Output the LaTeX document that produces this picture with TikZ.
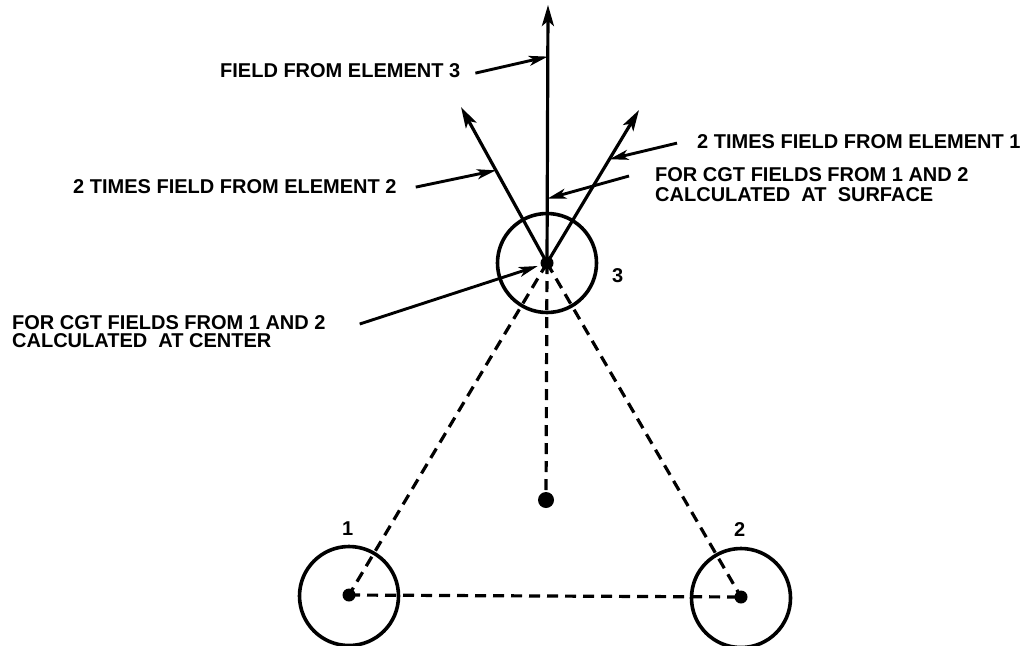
\documentclass[tikz,border=0pt]{standalone}
\usepackage{fontspec}
\setmainfont{Liberation Sans}
\usetikzlibrary{arrows.meta,calc}
\begin{document}
\begin{tikzpicture}[x=1pt,y=-1pt,
  lab/.style={font=\bfseries\fontsize{20}{20}\selectfont, inner sep=0pt, align=left},
  ring/.style={draw, line width=3.6pt, circle, minimum size=99pt, inner sep=0pt},
  dotn/.style={fill, circle, minimum size=13pt, inner sep=0pt},
  vec/.style={line width=3.2pt, -{Stealth[length=21pt,width=12pt,inset=5pt]}},
  call/.style={line width=2.9pt, -{Stealth[length=19pt,width=10pt,inset=5pt]}},
  dashline/.style={line width=3.2pt, dash pattern=on 11pt off 7pt}]
\useasboundingbox (0,0) rectangle (1027,645);

% elements
\node[dotn] (c3) at (547,263) {};
\node[ring] (r3) at (547,263) {};
\node[dotn] (c1) at (349,595) {};
\node[ring] (r1) at (349,596) {};
\node[dotn] (c2) at (741,597) {};
\node[ring] (r2) at (741,598) {};
\node[dotn, minimum size=16pt] (cg) at (546,500) {};

\node[lab, anchor=base west] (n3) at (612,282) {3};
\node[lab, anchor=base west] (n1) at (342,535) {1};
\node[lab, anchor=base west] (n2) at (734,536) {2};

% dashed construction lines
\draw[dashline] (c3.center) -- (c1.center);
\draw[dashline] (c3.center) -- (c2.center);
\draw[dashline] (c3.center) -- (cg.center);
\draw[dashline] (c1.center) -- (c2.center);

% field vectors
\coordinate (tU) at (548,5);
\coordinate (tL) at (461,107);
\coordinate (tR) at (639,110);
\draw[vec] (c3.center) -- (tU);
\draw[vec] (c3.center) -- (tL);
\draw[vec] (c3.center) -- (tR);

% labels
\node[lab, anchor=base west] (l3) at (220,77) {FIELD FROM ELEMENT 3};
\node[lab, anchor=base west] (l2) at (73,193) {2 TIMES FIELD FROM ELEMENT 2};
\node[lab, anchor=base west] (l1) at (697,148) {2 TIMES FIELD FROM ELEMENT 1};
\node[lab, anchor=north west] (lS) at (655,167) {FOR CGT FIELDS FROM 1 AND 2\\CALCULATED\ \ AT\ \ SURFACE};
\node[lab, anchor=north west, font=\bfseries\fontsize{20}{18}\selectfont] (lC) at (12,315) {FOR CGT FIELDS FROM 1 AND 2\\CALCULATED\ \ AT CENTER};

% callout arrows
\draw[call] ([shift={(15,3)}]l3.east) -- ($(c3.center)!0.80!(tU)$);
\draw[call] ([shift={(19,1)}]l2.east) -- ($(c3.center)!0.594!(tL)$);
\draw[call] ([shift={(-20,2)}]l1.west) -- ($(c3.center)!0.678!(tR)$);
\draw[call] ([shift={(-26,9)}]lS.north west) -- ($(c3.center)!0.249!(tU)$);
\draw[call, shorten >=3pt] ([shift={(34,9)}]lC.north east) -- (c3);
\end{tikzpicture}
\end{document}
